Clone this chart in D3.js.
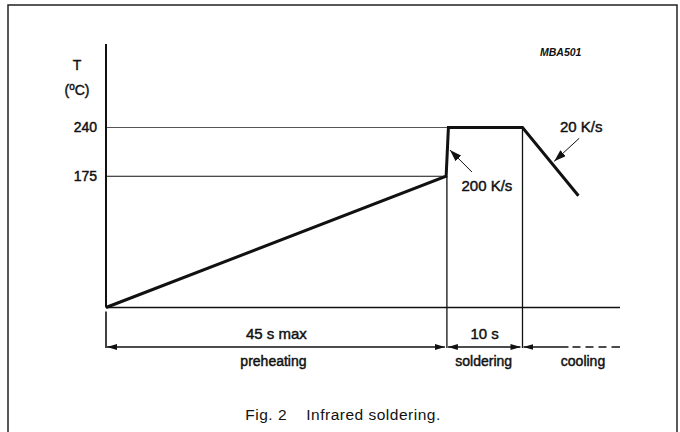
<!DOCTYPE html>
<html>
<head>
<meta charset="utf-8">
<script src="https://cdn.jsdelivr.net/npm/d3@7"></script>
<style>
  html, body { margin: 0; padding: 0; background: #fff; }
  svg { display: block; }
  text { font-family: "Liberation Sans", Arial, Helvetica, sans-serif; fill: #111; }
  .lbl { stroke: #111; stroke-width: 0.45px; }
</style>
</head>
<body>
<svg id="chart" width="680" height="432"></svg>
<script>
// ---- data ----
const profileTime = [0, 45, 45.3, 55.1, 62.5];      // s
const profileTemp = [0, 175, 240, 240, 149];         // °C
const tempTicks = [175, 240];
const phaseNames = ["preheating", "soldering", "cooling"];
const phaseDurations = ["45 s max", "10 s", ""];
const phaseStart = [0, 45.1, 55.1];
const phaseEnd = [45.1, 55.1, 68];
const rateLabels = ["200 K/s", "20 K/s"];
const chartId = "MBA501";
const caption = "Fig. 2    Infrared soldering.";

// ---- layout ----
const svg = d3.select("#chart");
const x = d3.scaleLinear().domain([0, 68]).range([106, 620]);
const y = d3.scaleLinear().domain([0, 240]).range([307.5, 127.5]);
const dimY = 347;

// defs: arrowheads
const defs = svg.append("defs");
defs.append("marker").attr("id", "ah").attr("viewBox", "0 0 10 6")
  .attr("refX", 10).attr("refY", 3).attr("markerWidth", 10).attr("markerHeight", 6)
  .attr("markerUnits", "userSpaceOnUse").attr("orient", "auto-start-reverse")
  .append("path").attr("d", "M0,0 L10,3 L0,6 Z").attr("fill", "#111");
defs.append("marker").attr("id", "ah2").attr("viewBox", "0 0 12 8")
  .attr("refX", 12).attr("refY", 4).attr("markerWidth", 12).attr("markerHeight", 8)
  .attr("markerUnits", "userSpaceOnUse").attr("orient", "auto")
  .append("path").attr("d", "M0,0 L12,4 L0,8 Z").attr("fill", "#111");

// frame
svg.append("rect").attr("x", 8).attr("y", 5).attr("width", 669).attr("height", 440)
  .attr("fill", "none").attr("stroke", "#222").attr("stroke-width", 1.5);

// reference lines for temperature ticks
const profile = profileTime.map((t, i) => [t, profileTemp[i]]);
tempTicks.forEach(T => {
  const hit = profile.find(p => p[1] >= T);
  svg.append("line").attr("x1", x(0)).attr("x2", x(hit[0]))
    .attr("y1", y(T)).attr("y2", y(T))
    .attr("stroke", T === 240 ? "#555" : "#111").attr("stroke-width", T === 240 ? 1.2 : 1);
});

// y-axis via d3 axis (ticks only as labels)
const yAxis = d3.axisLeft(y).tickValues(tempTicks).tickSize(0).tickPadding(9);
const gy = svg.append("g").attr("transform", `translate(${x(0)},0)`).call(yAxis);
gy.select(".domain").remove();
gy.selectAll("text").attr("font-size", 14).attr("class", "lbl")
  .style("font-family", '"Liberation Sans", Arial, sans-serif').attr("fill", "#111");

// axis line
svg.append("line").attr("x1", x(0)).attr("x2", x(0)).attr("y1", 44).attr("y2", y(0))
  .attr("stroke", "#111").attr("stroke-width", 2);
svg.append("line").attr("x1", x(0)).attr("x2", x(0)).attr("y1", y(0) + 4).attr("y2", dimY + 1)
  .attr("stroke", "#111").attr("stroke-width", 1.6);
// baseline
svg.append("line").attr("x1", x(0)).attr("x2", x(68)).attr("y1", y(0)).attr("y2", y(0))
  .attr("stroke", "#111").attr("stroke-width", 1.6);

// axis title
svg.append("text").attr("x", 77).attr("y", 70).attr("text-anchor", "middle")
  .attr("font-size", 14).attr("class", "lbl").text("T");
const tc = svg.append("text").attr("x", 77).attr("y", 95).attr("text-anchor", "middle")
  .attr("font-size", 14).attr("class", "lbl");
tc.append("tspan").text("(");
tc.append("tspan").attr("dy", -5).attr("font-size", 10).text("o");
tc.append("tspan").attr("dy", 5).text("C)");

// phase boundary verticals
[phaseStart[1], phaseEnd[1]].forEach((t, i) => {
  svg.append("line").attr("x1", x(t)).attr("x2", x(t))
    .attr("y1", i === 0 ? y(175) : y(240)).attr("y2", dimY + 1)
    .attr("stroke", "#111").attr("stroke-width", 1.3);
});

// profile curve
svg.append("path").datum(profile)
  .attr("d", d3.line().x(d => x(d[0])).y(d => y(d[1])))
  .attr("fill", "none").attr("stroke", "#111").attr("stroke-width", 3)
  .attr("stroke-linejoin", "miter");

// dimension arrows
phaseNames.forEach((name, i) => {
  const x1 = x(phaseStart[i]) + 1, x2 = x(phaseEnd[i]) - 2;
  const cx = (x(phaseStart[i]) + x(phaseEnd[i])) / 2;
  if (i < 2) {
    svg.append("line").attr("x1", x1).attr("x2", x2).attr("y1", dimY).attr("y2", dimY)
      .attr("stroke", "#111").attr("stroke-width", 1.3)
      .attr("marker-start", "url(#ah)").attr("marker-end", "url(#ah)");
  } else {
    svg.append("line").attr("x1", x(phaseStart[i]) + 1).attr("x2", x(phaseStart[i]) + 46)
      .attr("y1", dimY).attr("y2", dimY).attr("stroke", "#111").attr("stroke-width", 1.3)
      .attr("marker-start", "url(#ah)");
    svg.append("line").attr("x1", x(phaseStart[i]) + 46).attr("x2", x(phaseEnd[i]))
      .attr("y1", dimY).attr("y2", dimY).attr("stroke", "#111").attr("stroke-width", 1.3)
      .attr("stroke-dasharray", "0 4 8 5 8 5 8 5 8");
  }
  if (phaseDurations[i]) {
    svg.append("text").attr("x", cx).attr("y", dimY - 8).attr("text-anchor", "middle")
      .attr("font-size", 15).attr("class", "lbl").text(phaseDurations[i]);
  }
  svg.append("text").attr("x", i === 2 ? 583 : cx - (i === 0 ? 3 : 1)).attr("y", dimY + 19).attr("text-anchor", "middle")
    .attr("font-size", 14).attr("class", "lbl").text(name);
});

// rate annotations
// 200 K/s: arrow pointing at the steep rise
const rx = x(45.5), ry = y(210);
svg.append("line").attr("x1", rx + 22).attr("y1", ry + 22).attr("x2", rx).attr("y2", ry)
  .attr("stroke", "#111").attr("stroke-width", 1).attr("marker-end", "url(#ah2)");
svg.append("text").attr("x", rx + 37).attr("y", ry + 41).attr("text-anchor", "middle")
  .attr("font-size", 15).attr("class", "lbl").text(rateLabels[0]);
// 20 K/s: arrow pointing at the cooling slope
const cxp = x(59.3), cyp = y(195);
svg.append("line").attr("x1", cxp + 25).attr("y1", cyp - 23).attr("x2", cxp).attr("y2", cyp)
  .attr("stroke", "#111").attr("stroke-width", 1).attr("marker-end", "url(#ah2)");
svg.append("text").attr("x", cxp + 27).attr("y", cyp - 29).attr("text-anchor", "middle")
  .attr("font-size", 15).attr("class", "lbl").text(rateLabels[1]);

// chart id
svg.append("text").attr("x", 540).attr("y", 56).attr("font-size", 10.5)
  .attr("font-weight", "bold").attr("font-style", "italic").text(chartId);

// caption
svg.append("text").attr("x", 343).attr("y", 420).attr("text-anchor", "middle")
  .attr("font-size", 15.5).attr("letter-spacing", 0.5)
  .attr("xml:space", "preserve").style("white-space", "pre").text(caption);
</script>
</body>
</html>
